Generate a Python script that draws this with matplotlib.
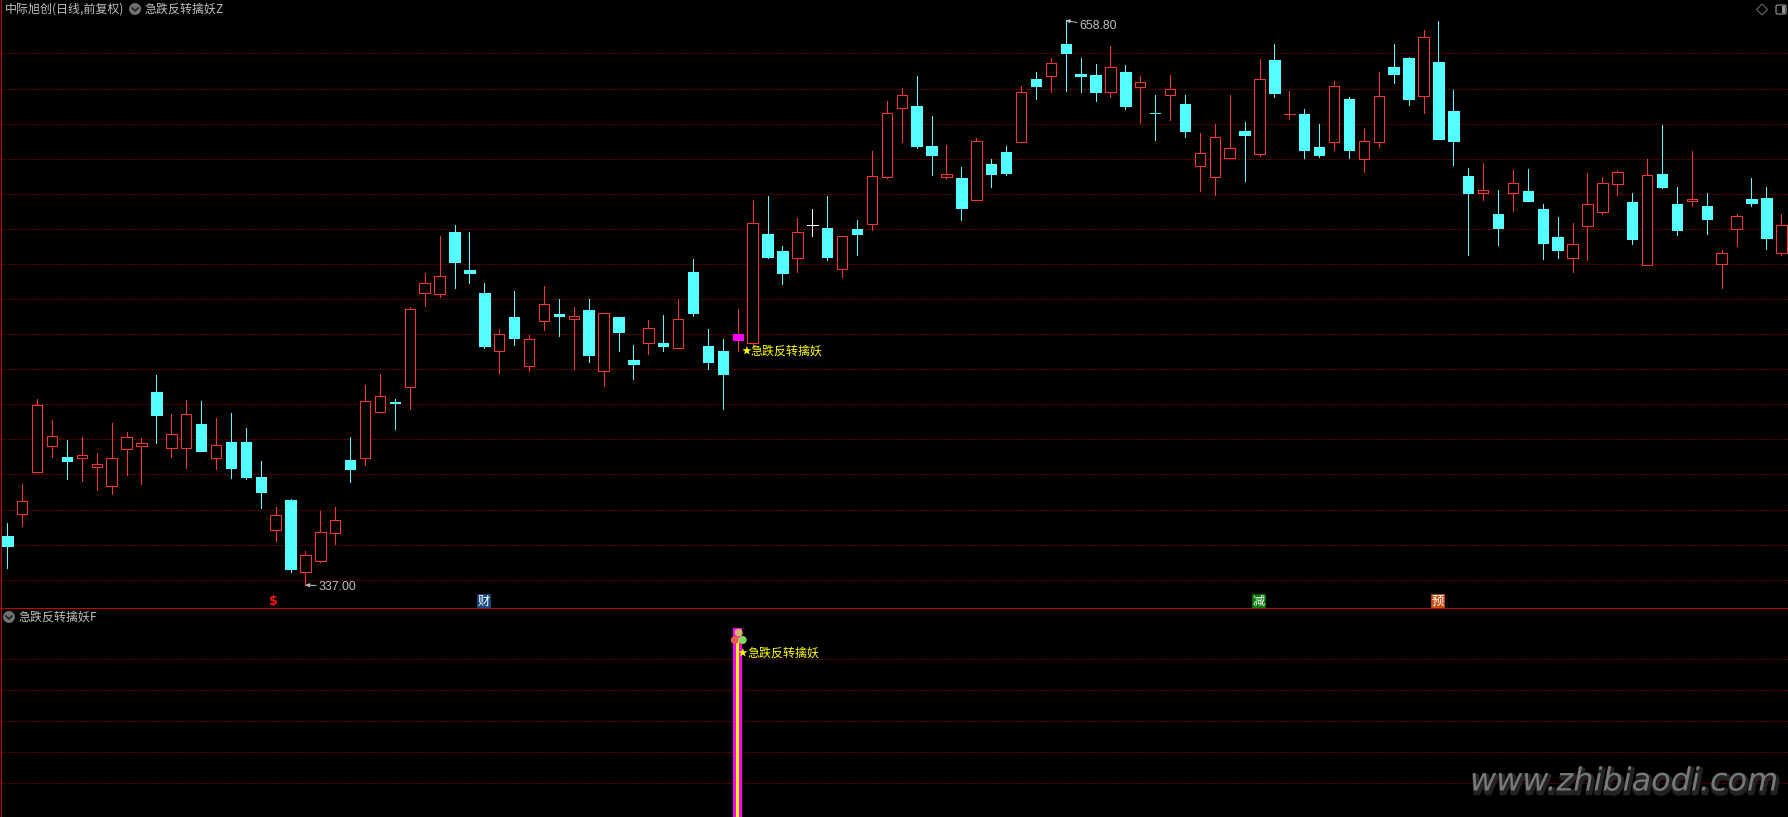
import matplotlib
matplotlib.use("Agg")
import matplotlib.pyplot as plt
import matplotlib.patheffects as pe
from matplotlib.patches import Circle, Polygon, Rectangle, FancyBboxPatch

# ---------------- data ----------------
opens = [
    364.9, 377.7, 401.6, 416.4, 410.0, 409.6, 404.5, 393.6, 414.7, 416.4,
    447.0, 415.3, 415.3, 428.8, 409.6, 418.5, 418.5, 398.6, 368.5, 385.5,
    344.6, 350.9, 366.8, 408.3, 409.6, 435.8, 441.1, 450.1, 503.6, 503.1,
    538.2, 516.6, 503.4, 470.6, 489.8, 462.0, 487.7, 491.5, 488.8, 493.8,
    459.2, 489.8, 465.3, 475.1, 474.9, 472.3, 515.4, 473.2, 470.4, 476.6,
    475.1, 537.1, 527.4, 523.6, 542.0, 540.5, 517.3, 539.9, 543.0, 569.8,
    609.1, 610.0, 587.2, 569.8, 569.0, 556.6, 577.0, 583.8, 589.7, 625.4,
    627.3, 645.4, 628.3, 627.7, 618.2, 629.4, 621.1, 605.9, 616.5, 611.2,
    576.0, 569.8, 580.6, 595.8, 582.9, 636.3, 605.3, 605.5, 586.7, 589.7,
    614.0, 580.0, 589.7, 632.3, 637.4, 615.9, 635.1, 607.2, 570.1, 560.6,
    548.5, 560.6, 561.6, 551.3, 535.4, 523.6, 541.8, 549.8, 565.8, 555.3,
    519.6, 571.3, 554.2, 555.9, 553.0, 520.2, 540.1, 557.0, 557.6, 526.4,
]
closes = [
    359.2, 384.7, 439.4, 421.7, 407.7, 410.9, 405.8, 409.2, 421.2, 417.8,
    433.9, 422.9, 434.3, 413.4, 416.6, 403.7, 398.6, 390.0, 376.7, 346.1,
    353.9, 367.0, 373.9, 403.1, 441.7, 444.5, 441.0, 494.3, 509.0, 512.9,
    521.1, 514.8, 473.2, 479.9, 477.8, 477.0, 497.0, 490.3, 490.1, 468.1,
    491.9, 481.2, 463.0, 483.3, 473.2, 488.4, 492.0, 464.1, 457.3, 480.1,
    543.1, 524.0, 514.8, 538.0, 542.0, 524.0, 535.9, 537.1, 569.9, 605.9,
    616.1, 587.2, 582.1, 571.1, 551.9, 589.9, 571.3, 571.8, 617.8, 621.4,
    634.4, 640.2, 627.1, 618.0, 632.1, 610.0, 623.5, 605.8, 619.5, 595.8,
    583.1, 592.2, 585.9, 593.5, 625.2, 617.4, 605.4, 585.0, 582.1, 621.2,
    585.0, 589.9, 615.5, 628.3, 614.0, 649.2, 591.2, 590.1, 560.4, 562.0,
    540.5, 566.0, 555.9, 531.9, 528.0, 531.2, 554.0, 566.0, 572.2, 534.2,
    570.5, 563.9, 539.4, 557.0, 545.6, 526.1, 547.1, 554.7, 534.8, 542.0,
]
highs = [
    372.3, 394.6, 443.0, 431.1, 419.7, 421.2, 412.2, 429.3, 424.2, 420.8,
    456.7, 434.5, 442.5, 441.9, 432.2, 435.0, 426.5, 407.7, 381.5, 386.0,
    356.4, 379.2, 381.5, 421.4, 451.0, 457.3, 443.0, 495.5, 514.8, 535.9,
    542.2, 538.2, 509.1, 482.9, 504.6, 479.5, 507.4, 500.0, 495.5, 500.0,
    491.9, 489.8, 473.8, 488.1, 490.9, 499.8, 522.8, 482.9, 477.2, 494.3,
    556.4, 558.7, 530.2, 546.2, 551.3, 558.7, 535.9, 545.1, 584.4, 612.9,
    620.1, 627.1, 604.3, 587.8, 575.3, 591.8, 579.8, 587.2, 621.4, 629.4,
    637.4, 658.8, 637.4, 634.0, 644.2, 633.4, 627.1, 616.3, 627.7, 616.3,
    594.6, 599.8, 616.3, 600.9, 636.8, 645.4, 618.6, 608.3, 599.8, 624.3,
    615.2, 597.5, 629.4, 645.4, 638.0, 653.4, 658.7, 619.2, 574.7, 577.5,
    562.2, 573.6, 574.1, 554.2, 546.8, 543.3, 571.8, 569.6, 573.6, 560.4,
    579.8, 599.2, 563.9, 584.4, 560.4, 528.0, 548.5, 569.0, 563.9, 548.5,
]
lows = [
    346.7, 370.6, 401.6, 410.0, 397.4, 396.3, 391.2, 388.9, 399.7, 394.6,
    417.9, 410.0, 403.7, 413.4, 403.1, 398.0, 397.4, 380.9, 362.1, 344.4,
    337.0, 350.1, 360.4, 395.7, 405.4, 435.8, 425.9, 437.3, 496.0, 501.2,
    506.3, 509.1, 472.1, 457.8, 473.8, 459.0, 482.4, 478.9, 459.9, 464.1,
    450.4, 470.4, 454.4, 468.7, 470.4, 472.3, 490.3, 460.1, 437.3, 470.4,
    473.2, 523.4, 508.6, 515.4, 535.9, 522.3, 512.6, 525.1, 539.4, 569.0,
    589.5, 586.1, 570.7, 568.4, 545.1, 556.6, 563.9, 570.7, 589.7, 614.0,
    618.0, 618.6, 618.0, 612.9, 615.2, 608.3, 600.3, 590.7, 602.1, 592.4,
    561.6, 559.3, 580.6, 567.3, 581.5, 615.2, 602.6, 580.4, 581.0, 585.0,
    580.4, 572.4, 586.7, 623.1, 610.6, 606.0, 591.2, 576.4, 525.1, 556.5,
    530.8, 550.2, 555.9, 522.8, 523.4, 515.4, 522.3, 548.5, 559.3, 531.4,
    519.6, 563.3, 536.5, 553.0, 537.1, 506.3, 530.2, 553.0, 528.5, 525.1,
]
price_levels = [640, 620, 600, 580, 560, 540, 520, 500, 480, 460, 440, 420, 400, 380, 360, 340]
signal_levels = [100, 80, 60, 40, 20]
signal_index = 49
signal_value = 120
white_doji = 54
high_index, high_label = 71, "658.80"
low_index, low_label = 20, "337.00"
event_indices = [32, 84, 96]
event_labels = ["财", "减", "预"]
dollar_index = 18
title_stock = "中际旭创(日线,前复权)"
title_main = "急跌反转擒妖Z"
title_sub = "急跌反转擒妖F"
signal_text = "急跌反转擒妖"
watermark = "www.zhibiaodi.com"

# ---------------- style ----------------
W, H = 1788, 817
SPLIT = 608
PX = 0.72
CJK = ["Noto Sans CJK SC", "DejaVu Sans"]
RED, CYAN, MAG, YEL = "#ff3232", "#54ffff", "#ff00ff", "#ffff00"
GRID, AXIS, TXT = "#c00000", "#c80000", "#c0c0c0"
plt.rcParams["font.family"] = CJK

fig = plt.figure(figsize=(W / 100, H / 100), dpi=100, facecolor="black")
ax = fig.add_axes([0, 1 - SPLIT / H, 1, SPLIT / H])
ax2 = fig.add_axes([0, 0, 1, 1 - SPLIT / H])
ui = fig.add_axes([0, 0, 1, 1], zorder=5)
for a in (ax, ax2, ui):
    a.set_axis_off()
ui.set_xlim(0, W)
ui.set_ylim(H, 0)

xlim = (-0.49, 119.45)
ax.set_xlim(*xlim)
ax.set_ylim(323.89, 670.45)
ax2.set_xlim(*xlim)
ax2.set_ylim(-1.74, 133.1)

grid_x0 = -0.49 + 2.0 * (xlim[1] - xlim[0]) / W
for level in price_levels:
    ax.plot([grid_x0, xlim[1]], [level, level], color=GRID, lw=PX, linestyle=(0, (1, 2)),
            dash_capstyle="butt", antialiased=True, zorder=1, scalex=False, scaley=False)
for level in signal_levels:
    ax2.plot([grid_x0, xlim[1]], [level, level], color=GRID, lw=PX, linestyle=(0, (1, 2)),
             dash_capstyle="butt", antialiased=True, zorder=1, scalex=False, scaley=False)

# ---------------- candles ----------------
BODY = 0.7
for i, (o, c, h, l) in enumerate(zip(opens, closes, highs, lows)):
    up = c >= o
    col = RED if up else CYAN
    if i == white_doji:
        col = "white"
    ax.vlines(i, l, h, colors=col, linewidth=PX, antialiased=False, zorder=2)
    face = "black" if up else col
    edge = col
    if i == signal_index:
        face = edge = MAG
    ax.bar(i, abs(c - o), bottom=min(o, c), width=BODY, facecolor=face, edgecolor=edge,
           linewidth=PX, antialiased=False, zorder=3)

# high / low labels
ax.annotate(high_label, xy=(high_index, highs[high_index]), xytext=(14, -6),
            textcoords="offset pixels", color=TXT, fontsize=8.9, family="Liberation Sans",
            va="center", ha="left", zorder=6,
            arrowprops=dict(arrowstyle="-|>,head_length=0.25,head_width=0.12", color=TXT,
                            lw=PX, shrinkA=0, shrinkB=0))
ax.annotate(low_label, xy=(low_index, lows[low_index]), xytext=(13.5, -1.5),
            textcoords="offset pixels", color=TXT, fontsize=8.9, family="Liberation Sans",
            va="center", ha="left", zorder=6,
            arrowprops=dict(arrowstyle="-|>,head_length=0.25,head_width=0.12", color=TXT,
                            lw=PX, shrinkA=0, shrinkB=0))

# signal label on the price panel
ax.annotate("★", xy=(signal_index, lows[signal_index]), xytext=(9, 0), textcoords="offset pixels",
            color=YEL, fontsize=7, va="center", ha="center", family=CJK, zorder=6)
ax.annotate(signal_text, xy=(signal_index, lows[signal_index]), xytext=(13, 0),
            textcoords="offset pixels", color=YEL, fontsize=8.64, va="center", ha="left",
            family=CJK, zorder=6)

# event flags along the bottom of the price panel
event_colors = ["#1a4a80", "#0a7a0a", "#c85010"]
for idx, lab, bg in zip(event_indices, event_labels, event_colors):
    ax.annotate(lab, xy=(idx, 7 / SPLIT), xycoords=("data", "axes fraction"),
                xytext=(-1, 0), textcoords="offset pixels", color="white",
                fontsize=8.8, va="center", ha="center", family=CJK, zorder=6,
                bbox=dict(boxstyle="square,pad=0.03", fc=bg, ec=bg, lw=0.5))
ax.annotate("$", xy=(dollar_index, 7 / SPLIT), xycoords=("data", "axes fraction"),
            xytext=(-2, 0), textcoords="offset pixels", color="#ff1010", fontsize=9,
            fontweight="bold", va="center", ha="center", family="DejaVu Sans", zorder=6)

# ---------------- signal panel ----------------
base = ax2.get_ylim()[0]
ax2.bar(signal_index, signal_value - base, bottom=base, width=9.4 / 14.908, color=MAG,
        antialiased=False, zorder=3)
ax2.bar(signal_index, signal_value - base - 6, bottom=base, width=3.2 / 14.908, color=YEL,
        antialiased=False, zorder=4)

# ---------------- interface furniture (pixel coordinates) ----------------
ui.plot([0, W], [SPLIT, SPLIT], color=AXIS, lw=PX, antialiased=False)
ui.plot([0.5, 0.5], [0, H], color=AXIS, lw=PX, antialiased=False)

for cx, cy, col in [(738.7, 632.7, "#d8b468"), (734.7, 640, "#e05a50"), (742.7, 640, "#86d858")]:
    ui.add_patch(Circle((cx, cy), 4, fc=col, ec="none"))

ui.text(743, 653, "★", color=YEL, fontsize=7, va="center", ha="center", family=CJK)
ui.text(748, 653, signal_text, color=YEL, fontsize=8.64, va="center", ha="left", family=CJK)

ui.text(5, 9, title_stock, color=TXT, fontsize=8.64, va="center", ha="left", family=CJK)
ui.text(144.7, 9, title_main, color=TXT, fontsize=8.64, va="center", ha="left", family=CJK)
ui.text(19, 617, title_sub, color=TXT, fontsize=8.64, va="center", ha="left", family=CJK)

for cx, cy in [(135, 9), (9, 617)]:
    ui.add_patch(Circle((cx, cy), 6, fc="#707070", ec="none"))
    ui.plot([cx - 3, cx, cx + 3], [cy - 1, cy + 2, cy - 1], color="#1c1c1c", lw=1.1)

ui.add_patch(Polygon([(1762, 4), (1767.5, 9.5), (1762, 15), (1756.5, 9.5)], closed=True,
                     fc="none", ec="#707070", lw=PX))
ui.add_patch(FancyBboxPatch((1776, 5), 10, 9, boxstyle="round,pad=0,rounding_size=1.5",
                            fc="none", ec="#909090", lw=PX * 1.2))
ui.add_patch(Rectangle((1781.7, 6), 3.6, 7, fc="#909090", ec="none"))

ui.text(1470, 790.5, watermark, color="#787878", fontsize=23, style="italic",
        family="DejaVu Sans", va="baseline", ha="left",
        path_effects=[pe.Stroke(linewidth=3, foreground="#222222", offset=(1, -2)),
                      pe.Normal()])

fig.savefig("out.png", dpi=100, facecolor="black")
